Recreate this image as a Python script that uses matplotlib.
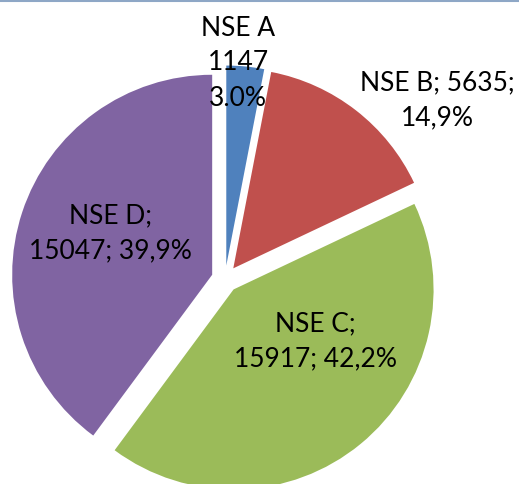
import matplotlib
matplotlib.use("Agg")
import matplotlib.pyplot as plt

# data
names = ["NSE A", "NSE B", "NSE C", "NSE D"]
values = [1147, 5635, 15917, 15047]
pct_text = ["3.0%", "14,9%", "42,2%", "39,9%"]
colors = ["#4F81BD", "#C0504D", "#9BBB59", "#8064A2"]

labels = [
    "{}\n{}\n{}".format(names[0], values[0], pct_text[0]),
    "{}; {};\n{}".format(names[1], values[1], pct_text[1]),
    "{};\n{}; {}".format(names[2], values[2], pct_text[2]),
    "{};\n{}; {}".format(names[3], values[3], pct_text[3]),
]
# label centres in pie-radius units
label_pos = [(0.065, 1.08), (1.06, 0.895), (0.45, -0.31), (-0.575, 0.23)]

plt.rcParams["font.family"] = ["Lato", "DejaVu Sans"]

fig = plt.figure(figsize=(5.19, 4.84), dpi=100)
ax = fig.add_axes([0, 0, 1, 1])

ax.pie(values, colors=colors, startangle=90, counterclock=False,
       explode=[0.0675] * 4, radius=1.0,
       wedgeprops=dict(linewidth=0))

for lab, (x, y) in zip(labels, label_pos):
    ax.text(x, y, lab, ha="center", va="center", fontsize=19,
            linespacing=1.5, color="black")

ax.set_xlim(-1.125, 1.47)
ax.set_ylim(-1.025, 1.395)
ax.set_aspect("equal")
ax.axis("off")

# thin border line along the top
fig.add_artist(plt.Line2D([0, 1], [0.998, 0.998], transform=fig.transFigure,
                          color="#8EA7C6", linewidth=1.5))

fig.savefig("out.png", dpi=100)
